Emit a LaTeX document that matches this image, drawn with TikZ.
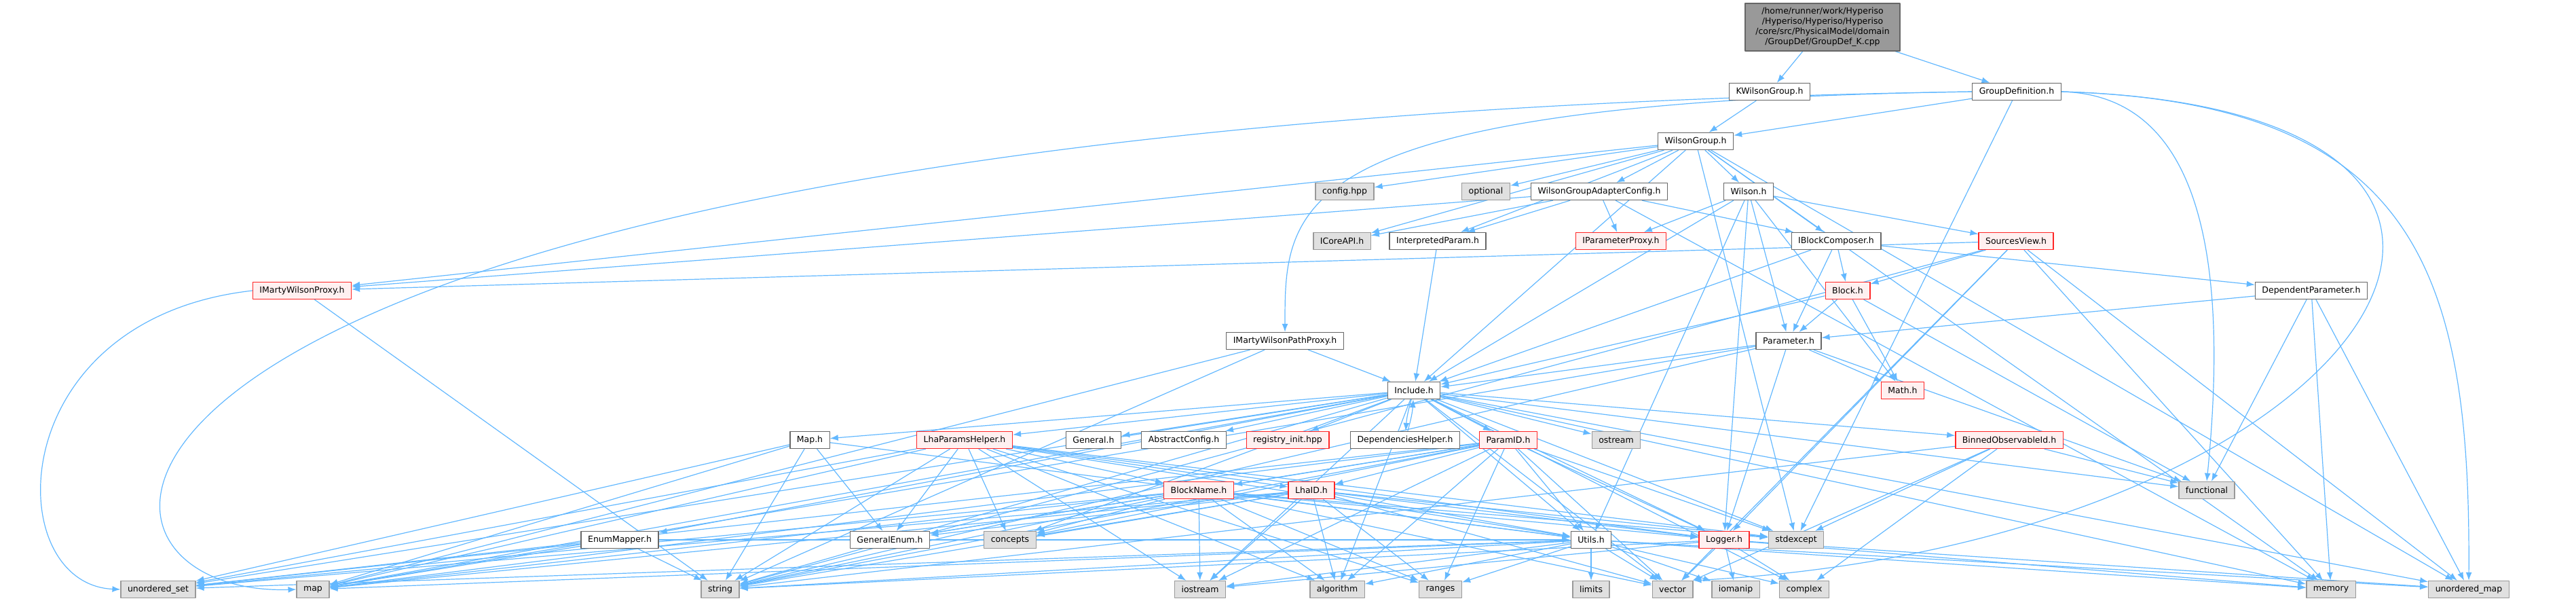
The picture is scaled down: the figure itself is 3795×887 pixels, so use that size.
\documentclass[tikz,border=0pt]{standalone}
\usepackage{fontspec}
\setmainfont{DejaVu Sans}
\usetikzlibrary{arrows.meta, backgrounds}
\definecolor{edgeblue}{HTML}{63B8FF}
\definecolor{boxgray}{HTML}{E0E0E0}
\definecolor{truncfill}{HTML}{FFF0F0}
\tikzset{>={Latex[length=12pt,width=9pt]}}
\tikzset{
  hdr/.style={draw=black!60, fill=white, line width=1.3pt, minimum height=25pt,
    inner xsep=10pt, inner ysep=0pt, font=\fontsize{12.5}{15}\selectfont},
  sys/.style={hdr, draw=black!40, fill=boxgray},
  trunc/.style={hdr, draw=red!85, fill=truncfill},
  dep/.style={->, draw=edgeblue, line width=1.2pt}
}

\begin{document}
\begin{tikzpicture}[x=1pt, y=-1pt, line join = round]
    \useasboundingbox (0,0) rectangle (3795,887);
    \node[hdr, fill=black!40, minimum width=228pt, minimum height=70pt, align=center] (root) at (2685,40)
        {/home/runner/work/Hyperiso\\/Hyperiso/Hyperiso/Hyperiso\\/core/src/PhysicalModel/domain\\/GroupDef/GroupDef\_K.cpp};
    \node[hdr] (kwg) at (2607,135) {KWilsonGroup.h};
    \node[hdr] (gdef) at (2971,135) {GroupDefinition.h};
    \node[hdr] (wg) at (2498,208) {WilsonGroup.h};
    \node[sys] (cfg) at (1981,282) {config.hpp};
    \node[sys] (opt) at (2189,282) {optional};
    \node[hdr] (wgac) at (2356,282) {WilsonGroupAdapterConfig.h};
    \node[hdr] (wil) at (2576,282) {Wilson.h};
    \node[sys] (icore) at (1977,355) {ICoreAPI.h};
    \node[hdr] (interp) at (2118,355) {InterpretedParam.h};
    \node[trunc] (ipp) at (2388,355) {IParameterProxy.h};
    \node[hdr] (ibc) at (2705,355) {IBlockComposer.h};
    \node[trunc] (srcv) at (2970,355) {SourcesView.h};
    \node[trunc] (imwp) at (445,428) {IMartyWilsonProxy.h};
    \node[trunc] (blk) at (2722,428) {Block.h};
    \node[hdr] (dep) at (3405,428) {DependentParameter.h};
    \node[hdr] (imwpp) at (1893,502) {IMartyWilsonPathProxy.h};
    \node[hdr] (par) at (2635,502) {Parameter.h};
    \node[hdr] (inc) at (2083,575) {Include.h};
    \node[trunc] (math) at (2803,575) {Math.h};
    \node[hdr] (mapH) at (1193,648) {Map.h};
    \node[trunc] (lhaph) at (1421,648) {LhaParamsHelper.h};
    \node[hdr] (gen) at (1611,648) {General.h};
    \node[hdr] (absc) at (1744,648) {AbstractConfig.h};
    \node[trunc] (reg) at (1897,648) {registry\_init.hpp};
    \node[hdr] (deph) at (2070,648) {DependenciesHelper.h};
    \node[trunc] (pid) at (2222,648) {ParamID.h};
    \node[sys] (ostr) at (2381,648) {ostream};
    \node[trunc] (binid) at (2960,648) {BinnedObservableId.h};
    \node[trunc] (bname) at (1766,722) {BlockName.h};
    \node[trunc] (lhaid) at (1932,722) {LhaID.h};
    \node[sys] (func) at (3251,722) {functional};
    \node[hdr] (enm) at (913,795) {EnumMapper.h};
    \node[hdr] (genenum) at (1311,795) {GeneralEnum.h};
    \node[sys] (conc) at (1488,795) {concepts};
    \node[hdr] (utils) at (2344,795) {Utils.h};
    \node[trunc] (logr) at (2540,795) {Logger.h};
    \node[sys] (stdex) at (2646,795) {stdexcept};
    \node[sys] (uset) at (233,868) {unordered\_set};
    \node[sys] (mapS) at (461,868) {map};
    \node[sys] (str) at (1061,868) {string};
    \node[sys] (iost) at (1768,868) {iostream};
    \node[sys] (algo) at (1970,868) {algorithm};
    \node[sys] (rng) at (2122,868) {ranges};
    \node[sys] (lim) at (2344,868) {limits};
    \node[sys] (vec) at (2464,868) {vector};
    \node[sys] (ioman) at (2557,868) {iomanip};
    \node[sys] (cplx) at (2658,868) {complex};
    \node[sys] (mem) at (3434,868) {memory};
    \node[sys] (umap) at (3637,868) {unordered\_map};

    \begin{scope}[on background layer]
    \foreach \a/\b in {root/kwg, root/gdef, kwg/wg, gdef/wg, gdef/stdex,
        wg/cfg, wg/opt, wg/wgac, wg/wil, wg/icore, wg/interp, wg/imwp, wg/ibc, wg/inc, wg/stdex, wg/umap, wg/mem,
        wgac/icore, wgac/interp, wgac/ipp, wgac/ibc, wgac/imwp, wgac/mem,
        wil/ipp, wil/inc, wil/logr, wil/par, wil/math, wil/srcv, wil/utils,
        interp/inc, ibc/inc, ibc/par, ibc/blk, ibc/dep,
        srcv/blk, srcv/imwp, srcv/str, srcv/logr, srcv/mem, srcv/umap, srcv/vec,
        blk/par, blk/inc, blk/math, blk/func,
        dep/par, dep/func, dep/mem, dep/umap,
        imwp/str, imwpp/inc, imwpp/mapS, imwpp/str,
        par/inc, par/math, par/logr, par/func, par/str, par/mapS}{
        \draw[dep] (\a) -- (\b);
    }
    \foreach \b in {mapH, lhaph, gen, absc, reg, pid, ostr, binid, enm, utils, logr, stdex, conc,
        uset, mapS, str, iost, vec, cplx, mem, umap, func, algo}{
        \draw[dep] (inc) -- (\b);
    }
    \draw[dep] (inc) to[bend right=6] (deph);
    \draw[dep] (deph) to[bend right=6] (inc);
    \foreach \a/\b in {mapH/genenum, mapH/mapS, mapH/str, mapH/utils, mapH/uset,
        binid/func, binid/stdex, binid/vec, binid/cplx, binid/str,
        enm/mapS, enm/str, enm/uset, enm/utils}{
        \draw[dep] (\a) -- (\b);
    }
    \foreach \a in {lhaph, pid, bname, lhaid}{
        \foreach \b in {genenum, conc, utils, logr, stdex, uset, mapS, str, iost, algo, rng}{
            \draw[dep] (\a) -- (\b);
        }
    }
    \foreach \a/\b in {lhaph/bname, lhaph/lhaid, pid/bname, pid/lhaid, pid/vec, bname/vec, lhaid/vec}{
        \draw[dep] (\a) -- (\b);
    }
    \foreach \b in {iost, algo, rng, lim, vec, str, mapS, uset, cplx, mem, umap, ioman}{
        \draw[dep] (utils) -- (\b);
    }
    \foreach \b in {str, vec, ioman, cplx, iost, mem, umap}{
        \draw[dep] (logr) -- (\b);
    }
    \draw[dep] (gdef.west) .. controls (1893,150) and (1893,300) .. (imwpp.north);
    \draw[dep] (gdef.west) .. controls (0,180) and (30,880) .. (mapS.west);
    \draw[dep] (gdef.east) .. controls (3250,140) and (3282,400) .. (func.north);
    \draw[dep] (gdef.east) .. controls (3560,150) and (3640,400) .. (umap.north);
    \draw[dep] (gdef.east) .. controls (3900,160) and (3500,800) .. (vec.north east);
    \draw[dep] (imwp.west) .. controls (0,470) and (0,860) .. (uset.west);
    \end{scope}
\end{tikzpicture}
\end{document}
